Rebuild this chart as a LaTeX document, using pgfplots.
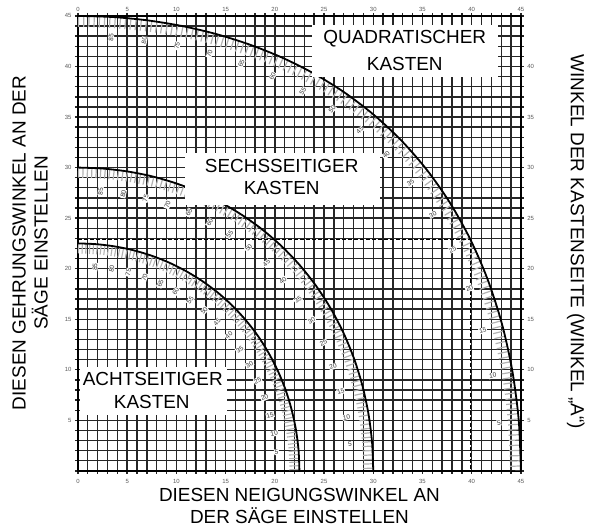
\documentclass[border=0pt]{standalone}
\usepackage{pgfplots}
\pgfplotsset{compat=1.18}
\usepackage{pgfplotstable}
\usepackage{fontspec}
\setmainfont{Liberation Sans}

% curve: side angle A -> bevel x, miter y
\pgfplotstableread{
x y
0 45
3.533 44.891
7.053 44.562
10.545 44.007
13.995 43.219
17.387 42.185
20.705 40.893
23.928 39.324
27.034 37.456
30 35.264
32.797 32.735
35.395 29.837
37.761 26.565
39.858 22.909
41.642 18.882
43.082 14.511
44.135 9.851
44.782 4.981
45 0
}\sqtab

\pgfplotstableread{
x y
0 30
2.498 29.905
4.981 29.623
7.436 29.155
9.846 28.48
12.199 27.62
14.478 26.565
16.665 25.31
18.745 23.86
20.705 22.208
22.52 20.36
24.178 18.32
25.657 16.10
26.946 13.71
28.025 11.17
28.879 8.50
29.499 5.725
29.874 2.88
30 0
}\hextab

\pgfplotstableread{
x y
0 22.5
1.911 22.42
3.810 22.19
5.684 21.81
7.521 21.27
9.307 20.58
11.031 19.73
12.68 18.74
14.24 17.61
15.70 16.33
17.047 14.91
18.27 13.37
19.35 11.70
20.29 9.93
21.08 8.06
21.69 6.12
22.14 4.11
22.41 2.07
22.5 0
}\octtab

\pgfplotstableread{
x y r lab
3.37 42.87 85 85
6.73 42.56 80 80
10.07 42.03 75 75
13.37 41.27 70 70
16.6 40.29 65 65
19.77 39.05 60 60
22.85 37.55 55 55
25.82 35.77 50 50
28.65 33.68 45 45
31.32 31.26 40 40
33.8 28.49 35 35
36.06 25.37 30 30
38.06 21.88 25 25
39.77 18.03 20 20
41.14 13.86 15 15
42.15 9.41 10 10
42.77 4.76 5 5
}\sqlab

\pgfplotstableread{
x y r lab
2.31 27.66 85 85
4.61 27.4 80 80
6.88 26.97 75 75
9.11 26.34 70 70
11.28 25.55 65 65
13.39 24.57 60 60
15.42 23.41 55 55
17.34 22.07 50 50
19.15 20.54 45 45
20.83 18.83 40 40
22.36 16.95 35 35
23.73 14.89 30 30
24.93 12.68 25 25
25.92 10.33 20 20
26.71 7.86 15 15
27.29 5.3 10 10
27.63 2.66 5 5
}\hexlab

\pgfplotstableread{
x y r lab
1.72 20.18 85 85
3.43 19.97 80 80
5.12 19.63 75 75
6.77 19.14 70 70
8.38 18.52 65 65
9.93 17.76 60 60
11.41 16.87 55 55
12.82 15.85 50 50
14.13 14.7 45 45
15.35 13.42 40 40
16.44 12.03 35 35
17.42 10.53 30 30
18.27 8.94 25 25
18.97 7.25 20 20
19.52 5.51 15 15
19.93 3.7 10 10
20.17 1.86 5 5
}\octlab

\pgfplotsset{
  curvelab/.style={only marks, mark=none, nodes near coords, point meta=explicit symbolic,
    nodes near coords align={center},
    visualization depends on={\thisrow{r} \as \rot},
    every node near coord/.append style={rotate=\rot, anchor=center,
      font=\fontsize{6.5}{6.5}\selectfont, text=black!80, fill=white, inner sep=0.6bp}},
}

\begin{document}
\begin{tikzpicture}
\begin{axis}[
  width=443bp, height=455bp, scale only axis,
  xmin=0, xmax=45, ymin=0, ymax=45,
  clip=false,
  xtick={0,5,...,45}, ytick={0,5,...,45},
  yticklabels={,5,10,15,20,25,30,35,40,45},
  minor x tick num=4, minor y tick num=4,
  grid=both,
  major grid style={black!85, line width=1.4bp},
  minor grid style={black!85, line width=1.4bp},
  tick align=outside,
  major tick length=3bp, minor tick length=3bp,
  tick style={black!85, line width=1.4bp},
  axis line style={black, line width=1.4bp},
  tick label style={font=\fontsize{6}{7}\selectfont, text=black!65},
  /pgf/number format/assume math mode=true,
  xticklabel style={yshift=-2bp},
  yticklabel style={xshift=0bp},
]
% bounding box of the whole picture
\path (rel axis cs:-0.176,-0.125) rectangle (rel axis cs:1.156,1.035);

% hatch bands
\addplot[black!30, line width=11bp, dash pattern=on 1.2bp off 4bp, smooth]
  table[x expr=\thisrow{x}*0.9878, y expr=\thisrow{y}*0.9878]{\sqtab};
\addplot[black!30, line width=10bp, dash pattern=on 1.2bp off 3.2bp, smooth]
  table[x expr=\thisrow{x}*0.9833, y expr=\thisrow{y}*0.9833]{\hextab};
\addplot[black!30, line width=10bp, dash pattern=on 1.1bp off 2.6bp, smooth]
  table[x expr=\thisrow{x}*0.9778, y expr=\thisrow{y}*0.9778]{\octtab};

% curves
\addplot[black, line width=1.8bp, smooth] table{\sqtab};
\addplot[black, line width=1.8bp, smooth] table{\hextab};
\addplot[black, line width=1.8bp, smooth] table{\octtab};

% dashed guide
\addplot[black, line width=1.5bp, dash pattern=on 4bp off 2bp] coordinates {(0,22.9) (39.9,22.9) (39.9,0)};

% curve labels
\addplot[curvelab] table[meta=lab]{\sqlab};
\addplot[curvelab] table[meta=lab]{\hexlab};
\addplot[curvelab] table[meta=lab]{\octlab};

% label boxes
\fill[white] (axis cs:23.8,38.97) rectangle (axis cs:42.7,44.1);
\fill[white] (axis cs:10.9,26.3) rectangle (axis cs:30.7,31.45);
\fill[white] (axis cs:0.2,5.54) rectangle (axis cs:15.1,10.29);

\node[font=\fontsize{19}{19}\selectfont] at (axis cs:33.2,42.7) {QUADRATISCHER};
\node[font=\fontsize{19}{19}\selectfont] at (axis cs:33.2,40.2) {KASTEN};
\node[font=\fontsize{19}{19}\selectfont] at (axis cs:20.7,30.17) {SECHSSEITIGER};
\node[font=\fontsize{19}{19}\selectfont] at (axis cs:20.7,28.0) {KASTEN};
\node[font=\fontsize{19}{19}\selectfont] at (axis cs:7.6,9.1) {ACHTSEITIGER};
\node[font=\fontsize{19}{19}\selectfont] at (axis cs:7.5,6.82) {KASTEN};

% axis titles
\node[font=\fontsize{19}{22}\selectfont, align=center, rotate=90] at (rel axis cs:-0.108,0.501)
  {DIESEN GEHRUNGSWINKEL AN DER\\SÄGE EINSTELLEN};
\node[font=\fontsize{19}{22}\selectfont, rotate=-90] at (rel axis cs:1.124,0.503)
  {WINKEL DER KASTENSEITE (WINKEL „A“)};
\node[font=\fontsize{19}{22}\selectfont, align=center] at (rel axis cs:0.5,-0.077)
  {DIESEN NEIGUNGSWINKEL AN\\DER SÄGE EINSTELLEN};
\end{axis}

\begin{axis}[
  width=443bp, height=455bp, scale only axis,
  xmin=0, xmax=45, ymin=0, ymax=45,
  axis x line*=top, axis y line*=right,
  axis line style={draw=none},
  xtick={0,5,...,45}, ytick={0,5,...,45},
  yticklabels={,5,10,15,20,25,30,35,40,},
  major tick length=0bp,
  tick label style={font=\fontsize{6}{7}\selectfont, text=black!65},
  /pgf/number format/assume math mode=true,
  xticklabel style={yshift=1bp},
  yticklabel style={xshift=3bp},
]
\end{axis}
\end{tikzpicture}
\end{document}
